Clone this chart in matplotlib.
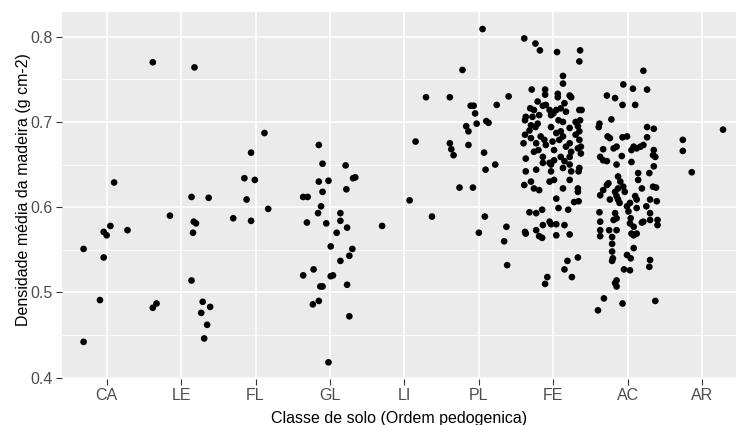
import matplotlib
matplotlib.use("Agg")
import matplotlib.pyplot as plt
import numpy as np

categories = ["CA", "LE", "FL", "GL", "LI", "PL", "FE", "AC", "AR"]

ca_jitter = [-0.31, -0.31, -0.09, -0.04, -0.04, 0.00, 0.05, 0.10, 0.28]
ca_dens = [0.551, 0.442, 0.491, 0.541, 0.571, 0.567, 0.578, 0.629, 0.573]

le_jitter = [-0.38, -0.38, -0.33, -0.15, 0.18, 0.14, 0.17, 0.20, 0.16, 0.14,
             0.29, 0.27, 0.39, 0.35, 0.31, 0.37]
le_dens = [0.770, 0.482, 0.487, 0.590, 0.764, 0.612, 0.583, 0.581, 0.570, 0.514,
           0.489, 0.476, 0.483, 0.462, 0.446, 0.611]

fl_jitter = [-0.30, -0.15, -0.12, -0.06, -0.01, -0.06, 0.12, 0.17]
fl_dens = [0.587, 0.634, 0.609, 0.664, 0.632, 0.584, 0.687, 0.598]

gl_jitter = [-0.36, -0.30, -0.31, -0.36, -0.22, -0.23, -0.15, -0.15, -0.15, -0.10,
             -0.10, -0.12, -0.16, -0.13, -0.10, -0.05, -0.02, -0.02, 0.01, 0.01,
             0.04, 0.09, 0.14, 0.14, 0.14, 0.21, 0.22, 0.23, 0.26, 0.30,
             0.23, 0.26, 0.31, 0.34]
gl_dens = [0.612, 0.612, 0.582, 0.520, 0.527, 0.486, 0.490, 0.673, 0.630, 0.651,
           0.618, 0.601, 0.593, 0.507, 0.507, 0.581, 0.631, 0.418, 0.554, 0.519,
           0.520, 0.570, 0.593, 0.584, 0.537, 0.649, 0.621, 0.576, 0.543, 0.551,
           0.509, 0.472, 0.634, 0.635]

li_jitter = [-0.30, 0.07, 0.15, 0.29, 0.37]
li_dens = [0.578, 0.608, 0.677, 0.729, 0.589]

pl_jitter = [-0.39, -0.39, -0.37, -0.34, -0.22, -0.26, -0.14, -0.17, -0.14, -0.11,
             -0.07, -0.05, -0.03, -0.08, 0.05, 0.00, 0.07, 0.09, 0.08, 0.10,
             0.13, 0.22, 0.24, 0.40, 0.34, 0.37, 0.38]
pl_dens = [0.729, 0.675, 0.668, 0.661, 0.761, 0.623, 0.673, 0.695, 0.689, 0.719,
           0.719, 0.710, 0.698, 0.623, 0.809, 0.570, 0.664, 0.644, 0.589, 0.701,
           0.699, 0.650, 0.720, 0.730, 0.560, 0.577, 0.532]

fe_jitter = [-0.39, -0.24, -0.18, 0.05, 0.36, 0.35, 0.13, 0.13, -0.29, -0.11,
             -0.11, 0.06, 0.06, 0.22, 0.24, -0.21, -0.31, -0.26, -0.14, -0.10,
             -0.05, 0.00, 0.04, -0.03, 0.10, 0.15, 0.17, 0.35, 0.38, -0.37,
             -0.38, -0.28, -0.19, -0.21, -0.30, -0.32, -0.24, -0.03, 0.07, 0.13,
             0.30, 0.36, 0.22, 0.33, 0.35, 0.10, -0.38, -0.40, -0.30, -0.23,
             -0.17, -0.12, -0.20, -0.26, -0.10, -0.01, 0.04, 0.08, 0.13, 0.01,
             0.17, 0.22, 0.24, 0.30, 0.35, 0.37, 0.33, -0.37, -0.14, -0.05,
             0.01, 0.10, 0.15, 0.22, 0.37, -0.14, -0.03, 0.22, -0.37, -0.23,
             -0.03, 0.13, 0.24, 0.35, 0.34, -0.39, -0.30, -0.26, -0.19, -0.05,
             0.01, 0.13, 0.22, 0.33, 0.33, 0.04, 0.34, 0.28, 0.07, 0.20,
             -0.32, -0.23, -0.15, -0.38, -0.37, -0.23, -0.19, -0.15, -0.14, -0.05,
             0.04, 0.15, 0.04, 0.22, -0.03, 0.33, 0.19, 0.15, 0.25, -0.08,
             -0.11]
fe_dens = [0.798, 0.792, 0.784, 0.782, 0.784, 0.771, 0.754, 0.745, 0.738, 0.738,
           0.732, 0.733, 0.729, 0.731, 0.729, 0.724, 0.716, 0.714, 0.719, 0.720,
           0.714, 0.710, 0.714, 0.708, 0.716, 0.722, 0.712, 0.714, 0.714, 0.706,
           0.702, 0.706, 0.708, 0.698, 0.696, 0.690, 0.694, 0.694, 0.702, 0.700,
           0.700, 0.702, 0.693, 0.695, 0.689, 0.689, 0.685, 0.675, 0.681, 0.675,
           0.683, 0.679, 0.667, 0.665, 0.673, 0.677, 0.687, 0.679, 0.683, 0.667,
           0.671, 0.675, 0.665, 0.685, 0.679, 0.671, 0.669, 0.657, 0.659, 0.652,
           0.655, 0.659, 0.654, 0.659, 0.663, 0.652, 0.650, 0.650, 0.642, 0.644,
           0.642, 0.646, 0.642, 0.646, 0.642, 0.626, 0.630, 0.622, 0.620, 0.630,
           0.632, 0.622, 0.632, 0.622, 0.618, 0.610, 0.607, 0.606, 0.599, 0.597,
           0.594, 0.593, 0.597, 0.571, 0.569, 0.573, 0.566, 0.564, 0.579, 0.583,
           0.580, 0.579, 0.567, 0.568, 0.580, 0.541, 0.537, 0.527, 0.518, 0.518,
           0.510]

ac_jitter = [0.21, -0.06, 0.07, 0.26, -0.28, -0.17, -0.07, 0.10, -0.22, -0.38,
             -0.39, 0.26, 0.35, -0.27, -0.24, -0.07, -0.01, 0.26, -0.15, -0.19,
             -0.33, -0.37, -0.33, -0.28, -0.08, 0.05, 0.08, 0.12, 0.17, 0.21,
             0.35, 0.34, 0.37, -0.15, 0.05, 0.35, 0.29, 0.14, 0.14, -0.13,
             -0.10, -0.26, -0.28, -0.33, -0.17, -0.13, -0.06, -0.04, -0.15, -0.24,
             -0.13, -0.11, -0.37, 0.10, 0.12, 0.19, 0.34, 0.38, 0.30, 0.39,
             0.03, -0.01, -0.38, -0.17, -0.15, -0.19, 0.01, 0.12, 0.04, 0.25,
             0.30, 0.30, 0.21, 0.19, 0.40, 0.40, -0.37, -0.37, -0.25, -0.15,
             0.03, 0.08, 0.05, 0.12, 0.08, -0.37, -0.21, 0.08, -0.21, -0.21,
             -0.20, -0.01, 0.04, -0.21, 0.30, 0.29, -0.05, 0.03, -0.15, -0.17,
             -0.15, -0.32, -0.07, 0.37, -0.40]
ac_dens = [0.760, 0.744, 0.739, 0.738, 0.731, 0.728, 0.720, 0.720, 0.703, 0.698,
           0.694, 0.694, 0.692, 0.683, 0.681, 0.682, 0.683, 0.682, 0.671, 0.669,
           0.668, 0.659, 0.655, 0.654, 0.660, 0.667, 0.671, 0.669, 0.671, 0.673,
           0.667, 0.661, 0.659, 0.650, 0.653, 0.648, 0.640, 0.640, 0.632, 0.636,
           0.630, 0.628, 0.626, 0.620, 0.618, 0.622, 0.624, 0.618, 0.613, 0.609,
           0.609, 0.605, 0.614, 0.613, 0.609, 0.622, 0.624, 0.623, 0.609, 0.607,
           0.605, 0.601, 0.594, 0.593, 0.587, 0.585, 0.595, 0.599, 0.587, 0.601,
           0.593, 0.585, 0.583, 0.582, 0.585, 0.579, 0.583, 0.573, 0.573, 0.573,
           0.581, 0.577, 0.569, 0.569, 0.567, 0.566, 0.565, 0.552, 0.557, 0.548,
           0.540, 0.544, 0.540, 0.537, 0.538, 0.530, 0.527, 0.526, 0.514, 0.511,
           0.507, 0.493, 0.487, 0.490, 0.479]

ar_jitter = [-0.26, -0.26, -0.14, 0.28]
ar_dens = [0.679, 0.666, 0.641, 0.691]

groups = [(ca_jitter, ca_dens), (le_jitter, le_dens), (fl_jitter, fl_dens),
          (gl_jitter, gl_dens), (li_jitter, li_dens), (pl_jitter, pl_dens),
          (fe_jitter, fe_dens), (ac_jitter, ac_dens), (ar_jitter, ar_dens)]

y_ticks = [0.4, 0.5, 0.6, 0.7, 0.8]
y_minor = [0.45, 0.55, 0.65, 0.75]

W, H = 736, 425
fig = plt.figure(figsize=(W / 100, H / 100), dpi=100)
plt.rcParams["font.family"] = ["Liberation Sans", "DejaVu Sans"]

left, right, top, bottom = 62, 736, 12, 378.5
ax = fig.add_axes([left / W, 1 - bottom / H, (right - left) / W, (bottom - top) / H])
ax.set_facecolor("#EBEBEB")
for s in ax.spines.values():
    s.set_visible(False)

ax.set_xlim(0.4, 1 + (736 - 107) / 74.4)
ax.set_ylim(0.399, 0.829)

xpos = np.arange(1, len(categories) + 1)
ax.set_xticks(xpos)
ax.set_xticklabels(categories)
ax.set_yticks(y_ticks)
ax.set_yticklabels([f"{v:.1f}" for v in y_ticks])
ax.set_yticks(y_minor, minor=True)
ax.tick_params(axis="y", which="minor", length=0)

ax.grid(True, which="major", color="white", linewidth=1.1)
ax.grid(True, which="minor", axis="y", color="white", linewidth=0.55)
ax.set_axisbelow(True)

ax.tick_params(axis="both", which="major", length=4, width=0.8, color="#333333",
               labelsize=11.5, labelcolor="#4D4D4D", pad=3)

for i, (jit, dens) in enumerate(groups):
    xs = xpos[i] + np.array(jit)
    ax.scatter(xs, dens, s=23, color="black", edgecolors="none", zorder=3)

fig.text(399 / W, 1 - 418 / H, "Classe de solo (Ordem pedogenica)", ha="center",
         va="center", fontsize=11.5, color="black")
fig.text(24 / W, 1 - 190 / H, "Densidade média da madeira (g cm-2)", ha="center",
         va="center", rotation=90, fontsize=11.5, color="black")

fig.savefig("out.png", dpi=100)
